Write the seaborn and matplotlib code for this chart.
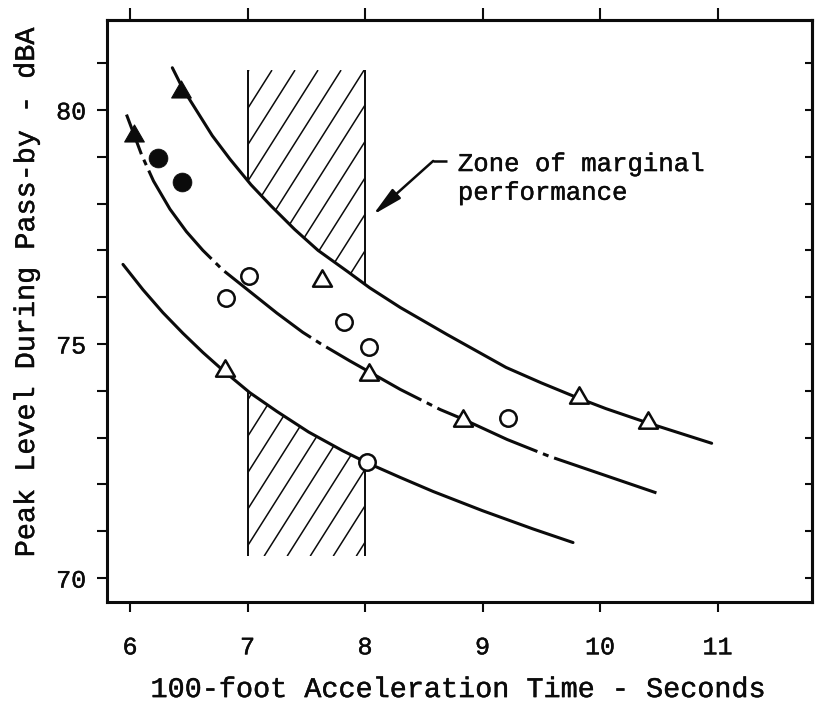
import numpy as np
import matplotlib
matplotlib.use("Agg")
import matplotlib.pyplot as plt
import matplotlib.patheffects as pe
from matplotlib.collections import LineCollection
from matplotlib.patches import Rectangle, Polygon
from matplotlib.path import Path
import seaborn as sns

# ---- fitted trend curves: acceleration time (s) vs peak pass-by level (dBA) ----
upper_x = [6.36, 6.45, 6.55, 6.70, 6.85, 7.03, 7.20, 7.40, 7.60, 7.85, 8.04,
           8.30, 8.70, 9.20, 9.50, 9.80, 10.05, 10.40, 10.70, 10.95]
upper_y = [80.90, 80.45, 80.05, 79.45, 78.95, 78.40, 77.95, 77.45, 77.00, 76.55, 76.20,
           75.78, 75.20, 74.50, 74.17, 73.86, 73.62, 73.32, 73.08, 72.88]

mid_x = [5.97, 6.03, 6.10, 6.20, 6.34, 6.48, 6.62, 6.79, 7.02, 7.25, 7.47,
         7.62, 7.87, 8.04, 8.30, 8.64, 8.83, 9.21, 9.57, 10.06, 10.48]
mid_y = [79.90, 79.50, 79.03, 78.48, 77.88, 77.40, 77.00, 76.58, 76.12, 75.66, 75.25,
         75.01, 74.64, 74.40, 74.03, 73.60, 73.40, 72.96, 72.60, 72.18, 71.82]

lower_x = [5.94, 6.11, 6.28, 6.45, 6.62, 6.79, 7.02, 7.25, 7.52, 7.81, 8.02,
           8.30, 8.58, 9.00, 9.43, 9.77]
lower_y = [76.70, 76.16, 75.67, 75.23, 74.82, 74.44, 73.96, 73.56, 73.12, 72.72, 72.46,
           72.15, 71.85, 71.44, 71.05, 70.76]

# ---- measured vehicles ----
filled_tri_x = [6.03, 6.43]
filled_tri_y = [79.50, 80.45]
filled_circ_x = [6.24, 6.44]
filled_circ_y = [78.97, 78.46]
open_tri_x = [6.81, 7.63, 8.03, 8.83, 9.82, 10.41]
open_tri_y = [74.49, 76.41, 74.40, 73.42, 73.91, 73.38]
open_circ_x = [6.82, 7.01, 7.82, 8.03, 8.02, 9.22]
open_circ_y = [75.98, 76.45, 75.47, 74.94, 72.48, 73.42]

# ---- zone of marginal performance ----
zone_x = [7.0, 8.0]
zone_y = [70.47, 80.85]

x_ticks = [6, 7, 8, 9, 10, 11]
y_ticks = list(range(70, 82))
y_tick_labels = ["70", "", "", "", "", "75", "", "", "", "", "80", ""]

ink = "#0b0b0b"
mono = ["Liberation Mono", "DejaVu Sans Mono"]
heavy = [pe.withStroke(linewidth=0.3, foreground=ink)]

sns.set_style("ticks")
plt.rcParams["font.family"] = mono
plt.rcParams["lines.scale_dashes"] = False
plt.rcParams["axes.edgecolor"] = ink
plt.rcParams["xtick.color"] = ink
plt.rcParams["ytick.color"] = ink

fig = plt.figure(figsize=(8.17, 7.09), dpi=100)
ax = fig.add_axes([107 / 817, 1 - 602 / 709, 705 / 817, 582 / 709])
ax.set_xlim(5.804, 11.804)
ax.set_ylim(69.49, 81.92)

# hatched zone: slanted lines clipped to the zone rectangle
clip = Rectangle((zone_x[0], zone_y[0]), zone_x[1] - zone_x[0], zone_y[1] - zone_y[0],
                 facecolor="none", edgecolor="none", transform=ax.transData)
ax.add_patch(clip)
slope = 3.97
step = 0.196
height = zone_y[1] - zone_y[0]
tops = np.arange(7.208 - 2 * step, zone_x[1] + height / slope + step, step)
segs = [[(t - height / slope, zone_y[0]), (t, zone_y[1])] for t in tops]
hatch = LineCollection(segs, colors=ink, linewidths=1.1, zorder=1)
ax.add_collection(hatch)
hatch.set_clip_path(clip)
ax.vlines(zone_x, zone_y[0], zone_y[1], colors=ink, linewidth=1.4, zorder=1)

# the band between the outer curves stays clear of hatching
band = list(zip(upper_x, upper_y)) + list(zip(lower_x[::-1], lower_y[::-1]))
ax.add_patch(Polygon(band, closed=True, facecolor="white", edgecolor="none", zorder=1.5))

# trend curves
sns.lineplot(x=upper_x, y=upper_y, sort=False, estimator=None, color=ink,
             linewidth=2.2, ax=ax, zorder=2)
sns.lineplot(x=mid_x, y=mid_y, sort=False, estimator=None, color=ink,
             linewidth=2.2, linestyle=(48, (78.5, 4.3, 4.3, 4.3)), ax=ax, zorder=2)
sns.lineplot(x=lower_x, y=lower_y, sort=False, estimator=None, color=ink,
             linewidth=2.2, ax=ax, zorder=2)

# markers
tri = Path([(0, 0.433), (-0.5, -0.433), (0.5, -0.433), (0, 0.433)],
           [Path.MOVETO, Path.LINETO, Path.LINETO, Path.CLOSEPOLY])
sns.scatterplot(x=open_tri_x, y=open_tri_y, marker=tri, s=185, facecolor="white",
                edgecolor=ink, linewidth=1.8, ax=ax, zorder=3)
sns.scatterplot(x=open_circ_x, y=open_circ_y, marker="o", s=140, facecolor="white",
                edgecolor=ink, linewidth=1.8, ax=ax, zorder=3)
sns.scatterplot(x=filled_tri_x, y=filled_tri_y, marker=tri, s=200, facecolor=ink,
                edgecolor=ink, linewidth=0.8, ax=ax, zorder=3)
sns.scatterplot(x=filled_circ_x, y=filled_circ_y, marker="o", s=185, facecolor=ink,
                edgecolor=ink, linewidth=0.5, ax=ax, zorder=3)

# zone callout
ax.text(8.79, 79.10, "Zone of marginal\nperformance", fontsize=18.5, color=ink,
        ha="left", va="top", linespacing=1.25, family=mono, path_effects=heavy)
ax.plot([8.70, 8.58], [78.91, 78.91], color=ink, linewidth=1.8, solid_capstyle="butt")
ax.annotate("", xy=(8.068, 77.76), xytext=(8.58, 78.91),
            arrowprops=dict(arrowstyle="-|>,head_length=0.75,head_width=0.16",
                            color=ink, lw=1.8, mutation_scale=24,
                            shrinkA=0, shrinkB=0))

# axes, ticks, labels
for sp in ax.spines.values():
    sp.set_linewidth(2.2)
    sp.set_color(ink)
ax.set_xticks(x_ticks)
ax.set_xticklabels([str(v) for v in x_ticks])
ax.set_yticks(y_ticks)
ax.set_yticklabels(y_tick_labels)
ax.tick_params(axis="x", direction="out", length=7, width=1.5, pad=17,
               labelsize=18, top=False, labelcolor=ink)
ax.tick_params(axis="y", direction="out", length=7, width=1.5, pad=8,
               labelsize=18, right=False, labelcolor=ink)
for lab in ax.get_xticklabels() + ax.get_yticklabels():
    lab.set_path_effects(heavy)

top = ax.secondary_xaxis("top")
top.set_xticks(x_ticks)
top.tick_params(direction="out", length=9, width=1.5, labeltop=False)
top.spines["top"].set_linewidth(2.2)
right = ax.secondary_yaxis("right")
right.set_yticks(y_ticks)
right.tick_params(direction="in", length=5, width=1.5, labelright=False)
right.spines["right"].set_linewidth(2.2)

ax.set_xlabel("100-foot Acceleration Time - Seconds", fontsize=20.5, color=ink,
              path_effects=heavy)
ax.set_ylabel("Peak Level During Pass-by - dBA", fontsize=20.5, color=ink,
              path_effects=heavy)
ax.xaxis.set_label_coords(0.499, -0.129)
ax.yaxis.set_label_coords(-0.095, 0.533)

fig.savefig("out.png", dpi=100, facecolor="white")
